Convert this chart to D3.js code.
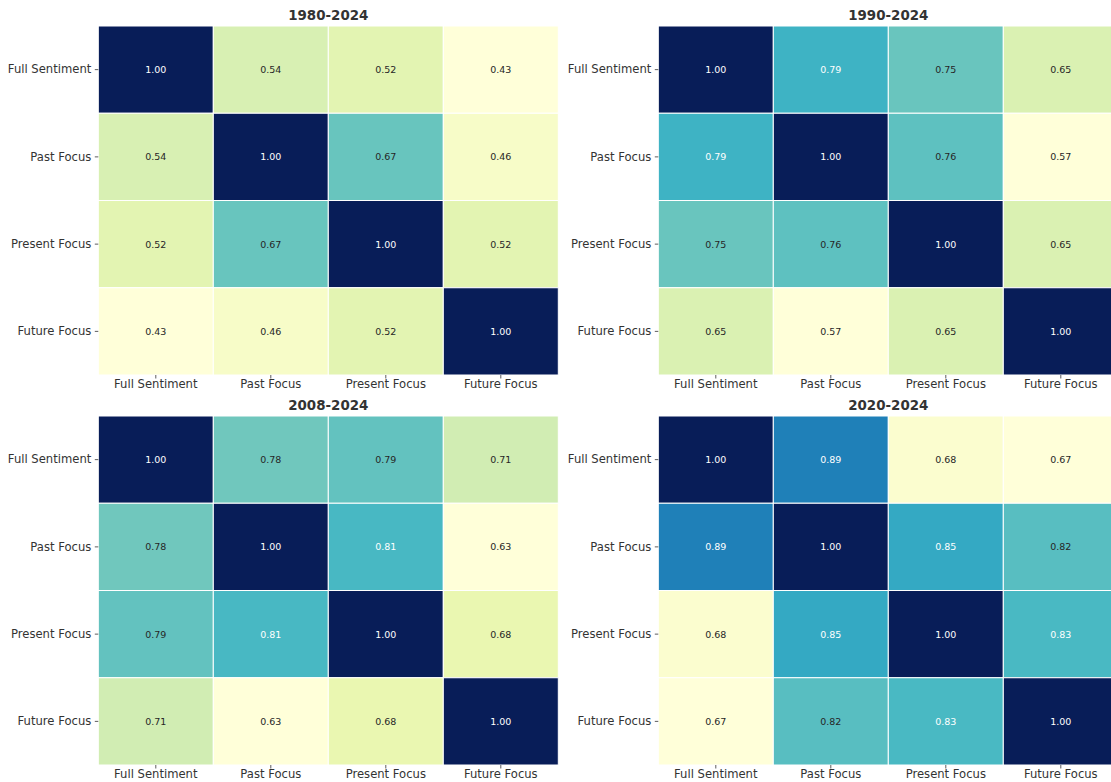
<!DOCTYPE html>
<html>
<head>
<meta charset="utf-8">
<script src="https://cdn.jsdelivr.net/npm/d3@7"></script>
<style>
  html, body { margin: 0; padding: 0; background: #fff; overflow: hidden; }
  svg { display: block; font-family: "DejaVu Sans", sans-serif; }
</style>
</head>
<body>
<svg id="chart" width="1111" height="782"></svg>
<script>
// ---- data ----
const labels = ["Full Sentiment", "Past Focus", "Present Focus", "Future Focus"];
const titles = ["1980-2024", "1990-2024", "2008-2024", "2020-2024"];
const m1980 = [
  [1.00, 0.54, 0.52, 0.43],
  [0.54, 1.00, 0.67, 0.46],
  [0.52, 0.67, 1.00, 0.52],
  [0.43, 0.46, 0.52, 1.00]
];
const m1990 = [
  [1.00, 0.79, 0.75, 0.65],
  [0.79, 1.00, 0.76, 0.57],
  [0.75, 0.76, 1.00, 0.65],
  [0.65, 0.57, 0.65, 1.00]
];
const m2008 = [
  [1.00, 0.78, 0.79, 0.71],
  [0.78, 1.00, 0.81, 0.63],
  [0.79, 0.81, 1.00, 0.68],
  [0.71, 0.63, 0.68, 1.00]
];
const m2020 = [
  [1.00, 0.89, 0.68, 0.67],
  [0.89, 1.00, 0.85, 0.82],
  [0.68, 0.85, 1.00, 0.83],
  [0.67, 0.82, 0.83, 1.00]
];
const matrices = [m1980, m1990, m2008, m2020];

// YlGnBu (9-class, linearly interpolated as in matplotlib)
const ylgnbu = ["#ffffd9","#edf8b1","#c7e9b4","#7fcdbb","#41b6c4","#1d91c0","#225ea8","#253494","#081d58"];

// ---- layout ----
const W = 460, H = 349;
const panels = [
  {x: 98.3, y: 26},
  {x: 658.3, y: 26},
  {x: 98.3, y: 416},
  {x: 658.3, y: 416}
];

const svg = d3.select("#chart");

function luminance(c) {
  const rgb = d3.rgb(c);
  const f = v => { v = v / 255; return v <= 0.03928 ? v / 12.92 : Math.pow((v + 0.055) / 1.055, 2.4); };
  return 0.2126 * f(rgb.r) + 0.7152 * f(rgb.g) + 0.0722 * f(rgb.b);
}

matrices.forEach((mat, i) => {
  const p = panels[i];
  const flat = mat.flat();
  const vmin = d3.min(flat), vmax = d3.max(flat);
  const color = d3.scaleLinear()
    .domain(d3.range(9).map(k => vmin + (vmax - vmin) * k / 8))
    .range(ylgnbu)
    .interpolate(d3.interpolateRgb)
    .clamp(true);

  const x = d3.scaleBand().domain(labels).range([0, W]).padding(0);
  const y = d3.scaleBand().domain(labels).range([0, H]).padding(0);

  const g = svg.append("g").attr("transform", `translate(${p.x},${p.y})`);

  const cells = [];
  mat.forEach((row, r) => row.forEach((v, c) => cells.push({r, c, v})));

  g.selectAll("rect.cell").data(cells).enter().append("rect")
    .attr("class", "cell")
    .attr("x", d => x(labels[d.c]))
    .attr("y", d => y(labels[d.r]))
    .attr("width", x.bandwidth())
    .attr("height", y.bandwidth())
    .attr("fill", d => color(d.v))
    .attr("stroke", "#ffffff")
    .attr("stroke-width", 1);

  g.selectAll("text.annot").data(cells).enter().append("text")
    .attr("class", "annot")
    .attr("x", d => x(labels[d.c]) + x.bandwidth() / 2)
    .attr("y", d => y(labels[d.r]) + y.bandwidth() / 2)
    .attr("text-anchor", "middle")
    .attr("dominant-baseline", "central")
    .attr("font-size", "9.5px")
    .attr("fill", d => luminance(color(d.v)) > 0.408 ? "#262626" : "#ffffff")
    .text(d => d.v.toFixed(2));

  // axes
  const xAxis = d3.axisBottom(x).tickSize(3.5).tickPadding(3.5);
  const yAxis = d3.axisLeft(y).tickSize(3.5).tickPadding(3.5);

  const gx = g.append("g").attr("transform", `translate(0,${H})`).call(xAxis);
  const gy = g.append("g").call(yAxis);
  [gx, gy].forEach(a => {
    a.select(".domain").remove();
    a.selectAll(".tick line").attr("stroke", "#333333").attr("stroke-width", 0.8);
    a.selectAll(".tick text").attr("fill", "#333333").attr("font-size", "11.6px")
      .attr("font-family", "DejaVu Sans, sans-serif");
  });
  gx.selectAll(".tick text").attr("y", 12.5).attr("dy", null);

  g.append("text")
    .attr("x", W / 2)
    .attr("y", -6.5)
    .attr("text-anchor", "middle")
    .attr("font-size", "13.4px")
    .attr("font-weight", "bold")
    .attr("fill", "#333333")
    .text(titles[i]);
});
</script>
</body>
</html>
